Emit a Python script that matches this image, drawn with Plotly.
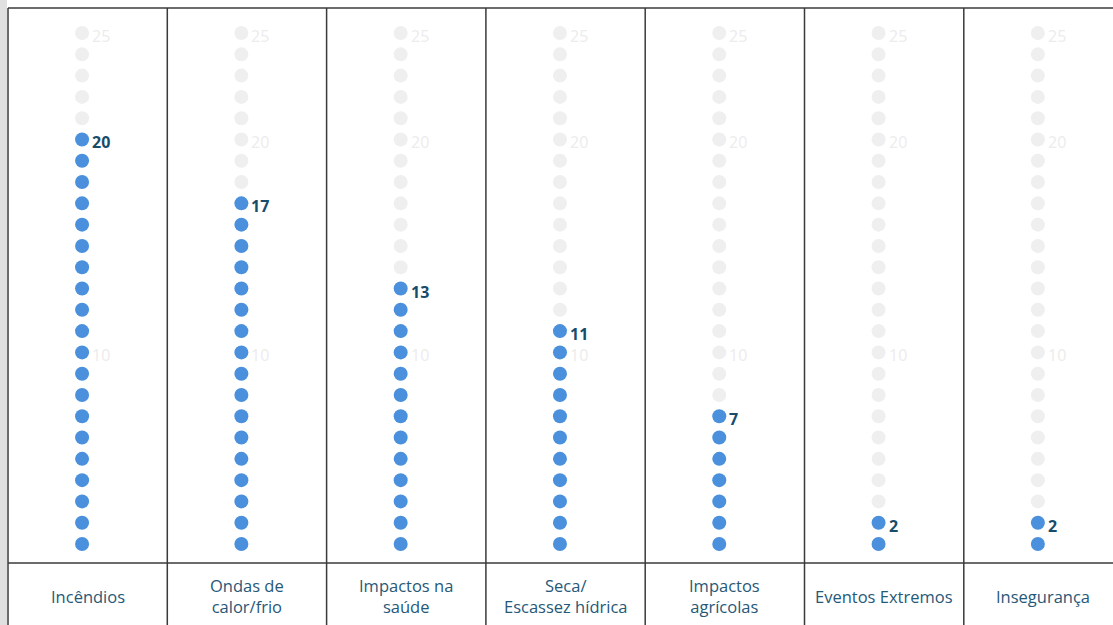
import plotly.graph_objects as go

categories = ["Incêndios", "Ondas de<br>calor/frio", "Impactos na<br>saúde", "Seca/<br>Escassez hídrica",
              "Impactos<br>agrícolas", "Eventos Extremos", "Insegurança"]
values = [20, 17, 13, 11, 7, 2, 2]
max_dots = 25
ref_ticks = [25, 20, 10]

BLUE = "#4a90dc"
GREY = "#efefef"
DARK = "#174d6b"
LABEL = "#265878"

W, H = 1113, 625
col_w = 159.3
left = 8
x_range = [(0 - left) / col_w - 0.5, (W - left) / col_w - 0.5]
step = 21.29
y1 = 544
y_range = [1 + (y1 - H) / step, 1 + (y1 - 0) / step]

def py(p):
    return 1 + (y1 - p) / step

dot_off = -0.035

fig = go.Figure()
n = len(categories)
gx, gy, bx, by = [], [], [], []
for i, v in enumerate(values):
    for k in range(1, max_dots + 1):
        if k <= v:
            bx.append(i + dot_off); by.append(k)
        else:
            gx.append(i + dot_off); gy.append(k)

fig.add_trace(go.Scatter(x=gx, y=gy, mode="markers", marker=dict(size=14, color=GREY), hoverinfo="skip"))
fig.add_trace(go.Scatter(x=bx, y=by, mode="markers", marker=dict(size=14, color=BLUE), hoverinfo="skip"))

annotations = []
for i, v in enumerate(values):
    for t in ref_ticks:
        if t == v:
            continue
        annotations.append(dict(x=i + dot_off, y=t, text=str(t), showarrow=False, xanchor="left",
                                yanchor="middle", xshift=8, yshift=-3,
                                font=dict(family="Open Sans", size=16, color="#ececec")))
    annotations.append(dict(x=i + dot_off, y=v, text="<b>%d</b>" % v, showarrow=False, xanchor="left",
                            yanchor="middle", xshift=8, yshift=-3,
                            font=dict(family="Open Sans", size=16, color=DARK)))
    annotations.append(dict(x=i, y=py(596), text=categories[i], showarrow=False, xanchor="center",
                            yanchor="middle", align="center",
                            font=dict(family="Open Sans", size=16.5, color=LABEL)))

shapes = [dict(type="rect", xref="paper", yref="paper", x0=0, x1=7 / W, y0=0, y1=1,
               fillcolor="#dfe0df", line=dict(width=0), layer="below")]
lc = dict(color="#3a3a3a", width=1.5)
for k in range(n + 1):
    shapes.append(dict(type="line", xref="x", yref="paper", x0=k - 0.5, x1=k - 0.5, y0=0, y1=1 - 8 / H, line=lc))
shapes.append(dict(type="line", xref="x", yref="y", x0=-0.5, x1=n - 0.5, y0=py(8), y1=py(8), line=lc))
shapes.append(dict(type="line", xref="x", yref="y", x0=-0.5, x1=n - 0.5, y0=py(563), y1=py(563), line=lc))

fig.update_layout(width=W, height=H, margin=dict(l=0, r=0, t=0, b=0), showlegend=False,
                  plot_bgcolor="white", paper_bgcolor="white",
                  xaxis=dict(range=x_range, visible=False, fixedrange=True),
                  yaxis=dict(range=y_range, visible=False, fixedrange=True),
                  annotations=annotations, shapes=shapes)
fig.write_html("out.html", config={"displayModeBar": False})
